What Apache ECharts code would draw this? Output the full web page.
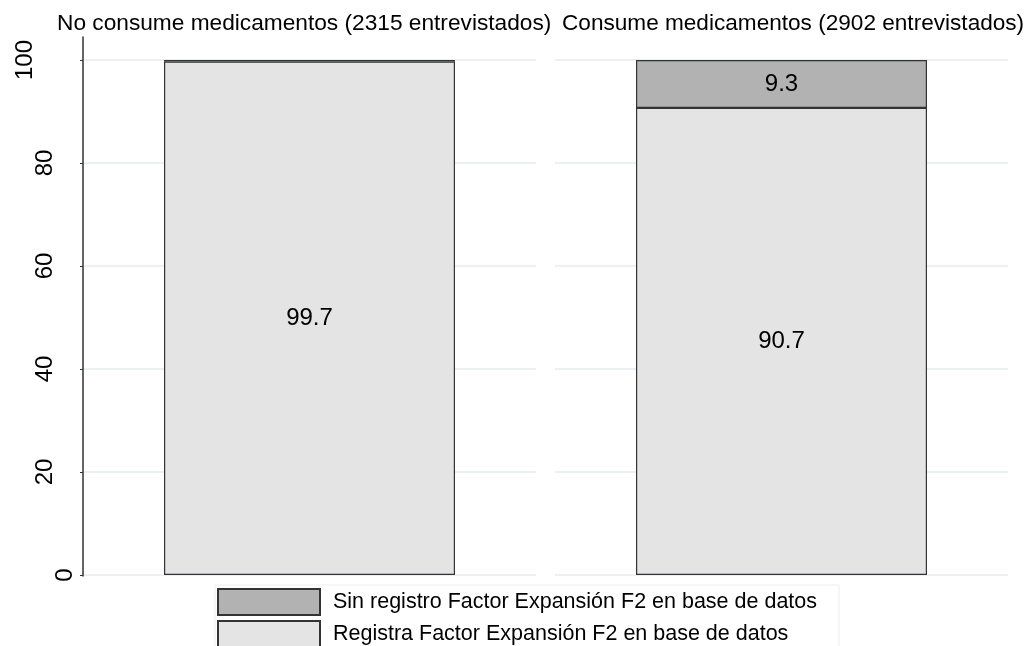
<!DOCTYPE html>
<html>
<head>
<meta charset="utf-8">
<script src="https://cdn.jsdelivr.net/npm/echarts@6/dist/echarts.min.js"></script>
<style>
  html, body { margin: 0; padding: 0; background: #fff; }
  #chartBox { width: 1034px; height: 646px; }
</style>
</head>
<body>
<div id="chartBox"></div>
<script>
// data
const panels = ['No consume medicamentos (2315 entrevistados)', 'Consume medicamentos (2902 entrevistados)']
const registra = [99.7, 90.7]
const sinRegistro = [0.3, 9.3]
const yTicks = [0, 20, 40, 60, 80, 100]
const seriesNames = ['Sin registro Factor Expansión F2 en base de datos', 'Registra Factor Expansión F2 en base de datos']

const FONT = 'Liberation Sans, Arial, sans-serif'
const GRID_COLOR = '#eaf0f3'
const EDGE = '#333'
const colDark = '#b2b2b2'
const colLight = '#e4e4e4'

const chart = echarts.init(document.getElementById('chartBox'))

const grids = [
  { left: 83, top: 60, width: 453, height: 515 },
  { left: 555, top: 60, width: 453, height: 515 },
  // only used to draw the long y axis line
  { left: 83, top: 37, width: 1, height: 539 }
]

const xAxes = [0, 1, 2].map(i => ({
  type: 'category',
  gridIndex: i,
  data: i < 2 ? [panels[i]] : [''],
  show: false
}))

const yAxes = [0, 1].map(i => ({
  type: 'value',
  gridIndex: i,
  min: yTicks[0],
  max: yTicks[yTicks.length - 1],
  interval: yTicks[1] - yTicks[0],
  axisLine: { show: false },
  axisTick: { show: i === 0, length: 3, lineStyle: { color: EDGE, width: 1 } },
  axisLabel: {
    show: i === 0,
    rotate: 90,
    margin: 6,
    color: '#000',
    formatter: v => '{l' + String(v).length + '|' + v + '}',
    rich: {
      l1: { fontSize: 24, fontFamily: FONT, color: '#000', padding: [0, 0, 0, 0] },
      l2: { fontSize: 24, fontFamily: FONT, color: '#000', padding: [0, 0, 20, 0] },
      l3: { fontSize: 24, fontFamily: FONT, color: '#000', padding: [0, 0, 40, 0] }
    }
  },
  splitLine: { show: true, lineStyle: { color: GRID_COLOR, width: 2 } }
}))
yAxes.push({
  type: 'value',
  gridIndex: 2,
  min: 0,
  max: 1,
  axisLine: { show: true, lineStyle: { color: EDGE, width: 1.5 } },
  axisTick: { show: false },
  axisLabel: { show: false },
  splitLine: { show: false }
})

const labelOf = v => ({
  show: v >= 1,
  position: 'inside',
  fontSize: 24,
  fontFamily: FONT,
  color: '#000'
})

const series = []
panels.forEach((p, i) => {
  series.push({
    name: seriesNames[1],
    type: 'bar',
    xAxisIndex: i,
    yAxisIndex: i,
    stack: 'p' + i,
    barWidth: 291,
    itemStyle: { color: colLight, borderColor: EDGE, borderWidth: 1.2 },
    data: [{ value: registra[i], label: labelOf(registra[i]) }]
  })
  series.push({
    name: seriesNames[0],
    type: 'bar',
    xAxisIndex: i,
    yAxisIndex: i,
    stack: 'p' + i,
    barWidth: 291,
    itemStyle: { color: colDark, borderColor: EDGE, borderWidth: 1.2 },
    data: [{ value: sinRegistro[i], label: labelOf(sinRegistro[i]) }]
  })
})

chart.setOption({
  animation: false,
  textStyle: { fontFamily: FONT },
  title: [
    { text: panels[0], left: 57, top: 12, padding: 0, textStyle: { fontSize: 22.7, fontWeight: 'normal', color: '#000', fontFamily: FONT } },
    { text: panels[1], left: 562, top: 12, padding: 0, textStyle: { fontSize: 22.6, fontWeight: 'normal', color: '#000', fontFamily: FONT } }
  ],
  grid: grids,
  xAxis: xAxes,
  yAxis: yAxes,
  legend: {
    data: seriesNames,
    orient: 'vertical',
    left: 215,
    top: 585,
    height: 60,
    icon: 'rect',
    itemWidth: 102,
    itemHeight: 26,
    itemGap: 4,
    padding: [3, 22, 0, 2],
    borderColor: GRID_COLOR,
    borderWidth: 1,
    selectedMode: false,
    textStyle: { fontSize: 21.5, fontFamily: FONT, color: '#000', padding: [0, 0, 0, 8] }
  },
  series: series
})

window.addEventListener('resize', () => {
  chart.resize()
})
</script>
</body>
</html>
